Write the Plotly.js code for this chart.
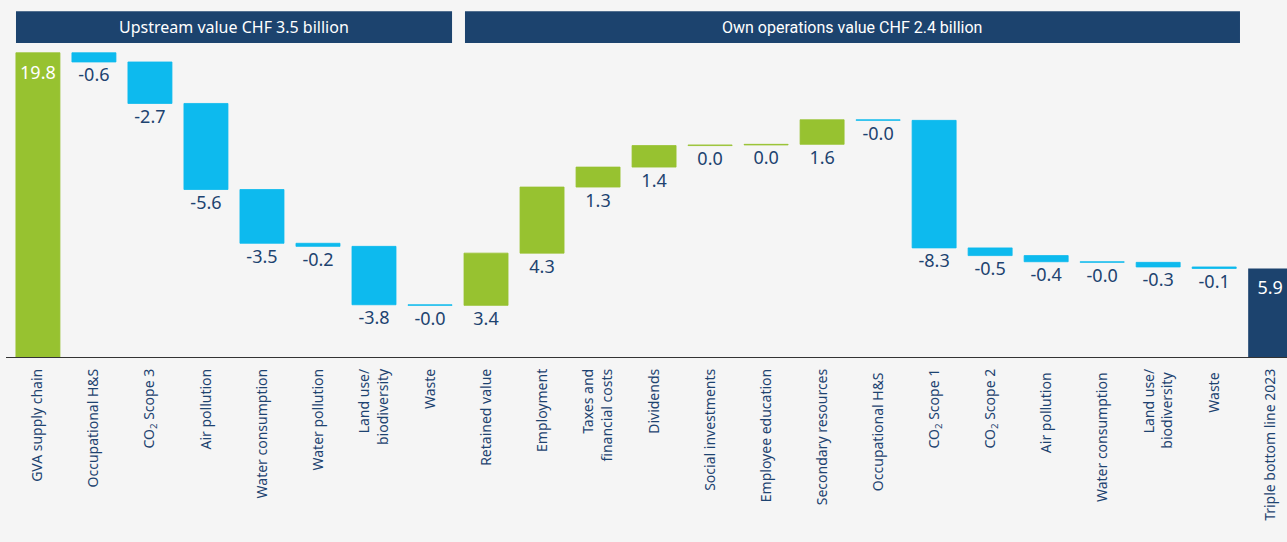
<!DOCTYPE html>
<html>
<head>
<meta charset="utf-8">
<script src="https://cdn.plot.ly/plotly-3.0.1.min.js"></script>
<style>
html,body{margin:0;padding:0;background:#f5f5f5;overflow:hidden;}
#chart{width:1287px;height:542px;}
</style>
</head>
<body>
<div id="chart"></div>
<script>
// ---- data ----
const categories = [
  "GVA supply chain", "Occupational H&S", "CO<sub>2</sub> Scope 3", "Air pollution",
  "Water consumption", "Water pollution", "Land use/<br>biodiversity", "Waste",
  "Retained value", "Employment", "Taxes and<br>financial costs", "Dividends",
  "Social investments", "Employee education", "Secondary resources", "Occupational H&S ",
  "CO<sub>2</sub> Scope 1", "CO<sub>2</sub> Scope 2", "Air pollution ", "Water consumption ",
  "Land use/<br>biodiversity ", "Waste ", "Triple bottom line 2023"
];
const values = [
  19.8, -0.6, -2.7, -5.6, -3.5, -0.2, -3.8, -0.04,
  3.4, 4.3, 1.3, 1.4, 0.04, 0.04, 1.6, -0.04,
  -8.3, -0.5, -0.4, -0.04, -0.3, -0.1, 0
];
const labels = [
  "19.8", "-0.6", "-2.7", "-5.6", "-3.5", "-0.2", "-3.8", "-0.0",
  "3.4", "4.3", "1.3", "1.4", "0.0", "0.0", "1.6", "-0.0",
  "-8.3", "-0.5", "-0.4", "-0.0", "-0.3", "-0.1", "5.9"
];
const measures = categories.map((c, i) => i === categories.length - 1 ? "total" : "relative");
const groupHeaders = ["Upstream value CHF 3.5 billion", "Own operations value CHF 2.4 billion"];

// ---- styling ----
const GREEN = "#97c230", BLUE = "#0dbaee", NAVY = "#1c436e", TEXT = "#1d4370";
const FONT = "Noto Sans, Open Sans, sans-serif";

// label positions derived from the running totals
let run = 0;
const labY = [], labColor = [], labOffset = [];
values.forEach((v, i) => {
  if (measures[i] === "total") {
    labY.push(run); labColor.push("#ffffff"); labOffset.push(18);
  } else {
    const start = run, end = run + v;
    run = end;
    if (i === 0) { labY.push(end); labColor.push("#ffffff"); labOffset.push(18); }
    else { labY.push(Math.min(start, end)); labColor.push(TEXT); labOffset.push(8); }
  }
});

const xs = categories.map((c, i) => i);

const wf = {
  type: "waterfall",
  x: xs,
  y: values,
  measure: measures,
  width: 0.786,
  connector: {visible: false},
  increasing: {marker: {color: GREEN, line: {color: GREEN, width: 0.8}}},
  decreasing: {marker: {color: BLUE, line: {color: BLUE, width: 0.8}}},
  totals: {marker: {color: NAVY, line: {color: NAVY, width: 0}}},
  textinfo: "none",
  hoverinfo: "skip",
  showlegend: false
};

const txt = {
  type: "scatter",
  mode: "markers+text",
  x: xs,
  y: labY,
  text: labels,
  marker: {size: labOffset, opacity: 0, color: "rgba(0,0,0,0)"},
  textposition: "bottom center",
  textfont: {family: FONT, size: 18, color: labColor},
  cliponaxis: false,
  hoverinfo: "skip",
  showlegend: false
};

const layout = {
  width: 1287,
  height: 542,
  margin: {l: 6, r: 0, t: 42, b: 185},
  paper_bgcolor: "#f5f5f5",
  plot_bgcolor: "#f5f5f5",
  font: {family: FONT, color: TEXT},
  xaxis: {
    type: "linear",
    range: [-0.57, 22.3],
    tickmode: "array",
    tickvals: xs,
    ticktext: categories,
    tickangle: -90,
    tickfont: {family: FONT, size: 14, color: TEXT},
    ticklabelstandoff: 5,
    showgrid: false,
    zeroline: false,
    showline: true,
    linecolor: "#333333",
    linewidth: 1.2,
    ticks: "",
    fixedrange: true
  },
  yaxis: {
    range: [0, 20.5],
    visible: false,
    showgrid: false,
    zeroline: false,
    fixedrange: true
  },
  shapes: [
    {type: "rect", xref: "paper", yref: "paper", x0: 0.0078, x1: 0.3482, y0: 0.997, y1: 1.098,
     fillcolor: NAVY, line: {width: 0}, layer: "above"},
    {type: "rect", xref: "paper", yref: "paper", x0: 0.3583, x1: 0.9633, y0: 0.997, y1: 1.098,
     fillcolor: NAVY, line: {width: 0}, layer: "above"}
  ],
  annotations: [
    {xref: "paper", yref: "paper", x: 0.178, y: 1.0475, text: groupHeaders[0], showarrow: false,
     font: {family: FONT, size: 16, color: "#ffffff"}, xanchor: "center", yanchor: "middle"},
    {xref: "paper", yref: "paper", x: 0.6608, y: 1.0475, text: groupHeaders[1], showarrow: false,
     font: {family: "Liberation Sans Narrow, Roboto, sans-serif", size: 16, color: "#ffffff"}, xanchor: "center", yanchor: "middle"}
  ]
};

Plotly.newPlot("chart", [wf, txt], layout, {displayModeBar: false, staticPlot: true});
</script>
</body>
</html>
